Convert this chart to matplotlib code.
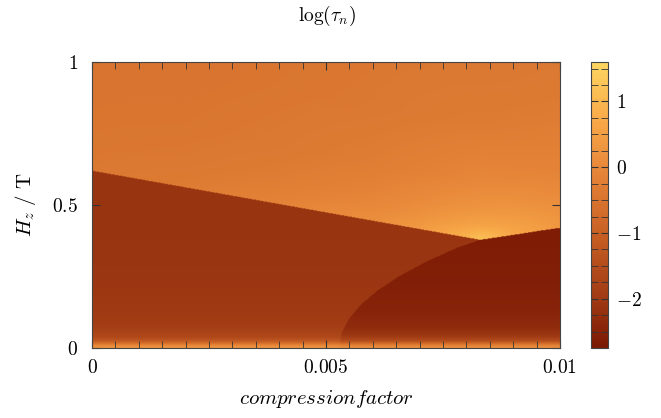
import numpy as np
import matplotlib.pyplot as plt
from matplotlib.colors import LinearSegmentedColormap

plt.rcParams['mathtext.fontset'] = 'cm'
plt.rcParams['font.family'] = ['DejaVu Serif']

# boundary between the upper phase and the lower phases
bound_c = [0.0, 0.0083, 0.009, 0.0095, 0.01]
bound_H = [0.62, 0.378, 0.395, 0.408, 0.42]

# boundary between the two lower phases
curve_H = [0.0, 0.05, 0.1, 0.15, 0.2, 0.25, 0.3, 0.35, 0.378]
curve_c = [0.00528, 0.00533, 0.00549, 0.00574, 0.00610, 0.00656, 0.00713, 0.00780, 0.0083]

# log(tau_n) in the upper phase: columns in c, rows = height above the boundary
up_c = [0.0, 0.002, 0.004, 0.006, 0.007, 0.008, 0.0083, 0.009, 0.01]
up_h = [0.0, 0.05, 0.1, 0.2, 0.4, 0.7]
up_vals = [
    [-0.40, -0.42, -0.45, -0.47, -0.50, -0.50],
    [-0.30, -0.35, -0.40, -0.45, -0.50, -0.50],
    [-0.10, -0.20, -0.28, -0.38, -0.45, -0.50],
    [0.15, 0.00, -0.10, -0.25, -0.40, -0.45],
    [0.40, 0.20, 0.05, -0.15, -0.35, -0.45],
    [0.90, 0.50, 0.25, -0.05, -0.30, -0.45],
    [1.20, 0.60, 0.30, 0.00, -0.30, -0.45],
    [0.70, 0.45, 0.25, -0.05, -0.30, -0.45],
    [0.35, 0.25, 0.10, -0.10, -0.30, -0.42],
]

# log(tau_n) in the lower phases against H
low_H = [0.0, 0.008, 0.016, 0.025, 0.04, 0.07, 0.12, 0.25, 0.45, 0.62]
left_vals = [0.30, 0.00, -0.65, -1.25, -1.65, -1.88, -2.00, -2.08, -2.12, -2.12]
right_vals = [0.20, -0.15, -0.85, -1.55, -2.00, -2.30, -2.48, -2.60, -2.66, -2.66]

vmin, vmax = -2.75, 1.6
cmap_vals = [-2.75, -2.0, -1.0, 0.0, 0.7, 1.6]
cmap_cols = ['#7a1804', '#a03a14', '#c86024', '#e8883a', '#f8a848', '#fcd662']

nc, nh = 661, 420
c = np.linspace(0, 0.01, nc)
H = np.linspace(0, 1, nh)
C, HH = np.meshgrid(c, H)

hb = np.interp(c, bound_c, bound_H)
T = np.array(up_vals)
Tc = np.array([np.interp(c, up_c, T[:, j]) for j in range(len(up_h))])
upper = np.empty_like(C)
for i in range(nc):
    upper[:, i] = np.interp(H - hb[i], up_h, Tc[:, i])

left = np.interp(HH, low_H, left_vals)
right = np.interp(HH, low_H, right_vals)
c_edge = np.interp(HH, curve_H, curve_c)
Z = np.where(HH > hb[None, :], upper, np.where(C >= c_edge, right, left))

pos = [(v - vmin) / (vmax - vmin) for v in cmap_vals]
cmap = LinearSegmentedColormap.from_list('tau', list(zip(pos, cmap_cols)))

fig = plt.figure(figsize=(6.61, 4.18), dpi=100)
ax = fig.add_axes([92 / 661, 1 - 348 / 418, 468 / 661, 286 / 418])
cax = fig.add_axes([591 / 661, 1 - 348 / 418, 17 / 661, 286 / 418])

im = ax.imshow(Z, origin='lower', extent=[0, 0.01, 0, 1], aspect='auto',
               cmap=cmap, vmin=vmin, vmax=vmax, interpolation='bilinear')

ax.set_xlim(0, 0.01)
ax.set_ylim(0, 1)
ax.set_xticks([0, 0.005, 0.01])
ax.set_xticklabels([r'$0$', r'$0.005$', r'$0.01$'])
ax.set_xticks(np.arange(0, 0.01001, 0.0005), minor=True)
ax.set_yticks([0, 0.5, 1])
ax.set_yticklabels([r'$0$', r'$0.5$', r'$1$'])
ax.tick_params(which='both', direction='in', top=True, right=True,
               labelsize=14, color='#333333')
ax.tick_params(which='major', length=6)
ax.tick_params(which='minor', length=5)
ax.tick_params(axis='x', pad=8)
ax.tick_params(axis='y', pad=10)
for s in ax.spines.values():
    s.set_color('#444444')

ax.set_xlabel(r'$compression factor$', fontsize=15, labelpad=8)
ax.set_ylabel(r'$H_z\ /\ \mathrm{T}$', fontsize=15, labelpad=10)
fig.text(0.495, 1 - 16 / 418, r'$\log(\tau_n)$', fontsize=14,
         ha='center', va='center')

cb = fig.colorbar(im, cax=cax)
cb.set_ticks([-2, -1, 0, 1])
cb.set_ticklabels([r'$-2$', r'$-1$', r'$0$', r'$1$'])
cb.ax.set_yticks(np.arange(-2.75, 1.6, 0.25), minor=True)
cb.ax.tick_params(which='both', direction='in', left=True, right=True,
                  length=5, color='#333333', labelsize=14, pad=6)
cb.outline.set_edgecolor('#444444')

fig.savefig('out.png', dpi=100)
